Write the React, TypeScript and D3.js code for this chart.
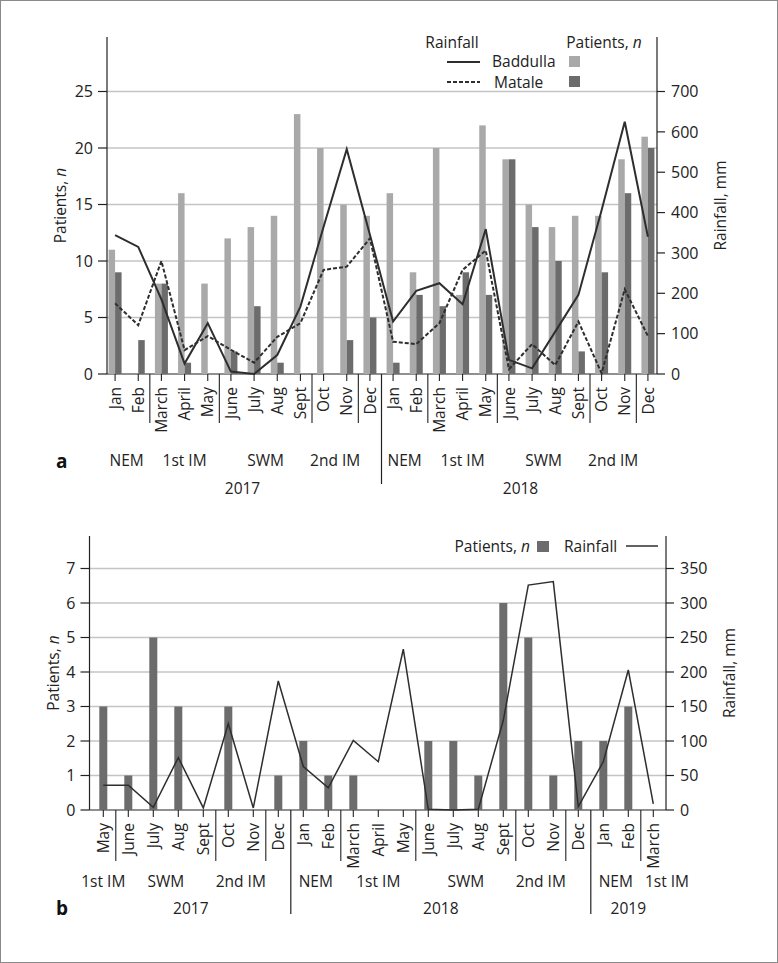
import React from "react";
import * as d3 from "d3";

// ---------- Panel a data ----------
const monthsA = ["Jan","Feb","March","April","May","June","July","Aug","Sept","Oct","Nov","Dec",
  "Jan","Feb","March","April","May","June","July","Aug","Sept","Oct","Nov","Dec"];
const baddullaPatients = [11,0,8,16,8,12,13,14,23,20,15,14, 16,9,20,7,22,19,15,13,14,14,19,21];
const matalePatients = [9,3,8,1,0,2,6,1,0,0,3,5, 1,7,6,9,7,19,13,10,2,9,16,20];
const baddullaRain = [344,315,185,26,126,6,0,47,167,365,557,345, 130,206,225,173,359,35,14,105,196,406,625,340];
const mataleRain = [175,121,280,59,94,60,28,92,126,258,266,336, 80,74,126,258,306,12,74,22,130,2,210,94];
const seasonLabelsA = ["NEM","1st IM","SWM","2nd IM","NEM","1st IM","SWM","2nd IM"];
const seasonStartA = [0,2,5,9,12,14,17,21];
const seasonEndA = [1,4,8,10,13,16,20,22];
const sepAfterA = [1,4,8,10,13,16,20,22];
const yearLabelsA = ["2017","2018"];
const yearStartA = [0,12];
const yearEndA = [11,23];
const leftTicksA = [0,5,10,15,20,25];
const rightTicksA = [0,100,200,300,400,500,600,700];

// ---------- Panel b data ----------
const monthsB = ["May","June","July","Aug","Sept","Oct","Nov","Dec",
  "Jan","Feb","March","April","May","June","July","Aug","Sept","Oct","Nov","Dec",
  "Jan","Feb","March"];
const patientsB = [3,1,5,3,0,3,0,1, 2,1,1,0,0,2,2,1,6,5,1,2, 2,3,0];
const rainB = [36,36,4,76,3,125,3,187, 63,32,101,70,233,1,0,1,130,326,331,5, 70,203,9];
const seasonLabelsB = ["1st IM","SWM","2nd IM","NEM","1st IM","SWM","2nd IM","NEM","1st IM"];
const seasonStartB = [0,1,5,8,10,13,17,20,22];
const seasonEndB = [0,4,6,9,12,16,18,21,22];
const sepAfterB = [0,4,6,9,12,16,18,21];
const yearLabelsB = ["2017","2018","2019"];
const yearStartB = [0,8,20];
const yearEndB = [7,19,22];
const leftTicksB = [0,1,2,3,4,5,6,7];
const rightTicksB = [0,50,100,150,200,250,300,350];

const FONT = "'Open Sans', 'Noto Sans', sans-serif";
const TXT = "#222";
const LIGHT = "#a9a9a9";
const DARK = "#6c6c6c";
const GRID = "#c4c4c4";
const LINE = "#2e2e2e";

function AxisFrame({ x, yL, yR, leftX, rightX, topY, baseY, leftTicks, rightTicks, months, sepAfter, yearAfter,
  yearLineEnd, seasonLabels, seasonStart, seasonEnd, seasonY, seasonXOverride, yearLabels, yearStart, yearEnd, yearY,
  leftTitleX, rightTitleX, sepEnd }) {
  const bw = x.bandwidth();
  const edgeAfter = (i) => (x(i) as number) + bw;
  const mid = (a, b) => ((x(a) as number) + (x(b) as number) + bw) / 2;
  const midY = (topY + baseY) / 2;
  return (
    <g fontFamily={FONT} fill={TXT}>
      {leftTicks.filter((t) => t > 0).map((t) => (
        <line key={"g" + t} x1={leftX} x2={rightX} y1={yL(t)} y2={yL(t)} stroke={GRID} strokeWidth={1.6} />
      ))}
      <line x1={leftX} x2={leftX} y1={topY} y2={baseY} stroke="#222" strokeWidth={1.2} />
      <line x1={rightX} x2={rightX} y1={topY} y2={baseY} stroke="#222" strokeWidth={1.2} />
      <line x1={leftX} x2={rightX} y1={baseY} y2={baseY} stroke="#222" strokeWidth={1.2} />
      {leftTicks.map((t) => (
        <g key={"l" + t}>
          <line x1={leftX - 9} x2={leftX} y1={yL(t)} y2={yL(t)} stroke="#222" strokeWidth={1.2} />
          <text x={leftX - 14} y={yL(t)} dy="0.36em" textAnchor="end" fontSize={16}>{t}</text>
        </g>
      ))}
      {rightTicks.map((t) => (
        <g key={"r" + t}>
          <line x1={rightX} x2={rightX + 8} y1={yR(t)} y2={yR(t)} stroke="#222" strokeWidth={1.2} />
          <text x={rightX + 14} y={yR(t)} dy="0.36em" textAnchor="start" fontSize={16}>{t}</text>
        </g>
      ))}
      {months.map((m, i) => {
        const cx = (x(i) as number) + bw / 2;
        return (
          <g key={"m" + i}>
            <line x1={cx} x2={cx} y1={baseY} y2={baseY + 7} stroke="#222" strokeWidth={1.1} />
            <text transform={`translate(${cx},${baseY + 13}) rotate(-90)`} dy="0.36em" textAnchor="end" fontSize={15.5}>{m}</text>
          </g>
        );
      })}
      {sepAfter.map((i) => (
        <line key={"s" + i} x1={edgeAfter(i)} x2={edgeAfter(i)} y1={baseY} y2={sepEnd} stroke="#222" strokeWidth={1.1} />
      ))}
      {yearAfter.map((i) => (
        <line key={"y" + i} x1={edgeAfter(i)} x2={edgeAfter(i)} y1={baseY} y2={yearLineEnd} stroke="#222" strokeWidth={1.2} />
      ))}
      {seasonLabels.map((s, k) => (
        <text key={"sl" + k} x={seasonXOverride && seasonXOverride[k] != null ? seasonXOverride[k] : mid(seasonStart[k], seasonEnd[k])}
          y={seasonY} textAnchor="middle" fontSize={15.5}>{s}</text>
      ))}
      {yearLabels.map((s, k) => (
        <text key={"yl" + k} x={mid(yearStart[k], yearEnd[k])} y={yearY} textAnchor="middle" fontSize={15.5}>{s}</text>
      ))}
      <text transform={`translate(${leftTitleX},${midY}) rotate(-90)`} dy="0.36em" textAnchor="middle" fontSize={15.5}>
        Patients, <tspan fontStyle="italic">n</tspan>
      </text>
      <text transform={`translate(${rightTitleX},${midY}) rotate(-90)`} dy="0.36em" textAnchor="middle" fontSize={15.5}>
        Rainfall, mm
      </text>
    </g>
  );
}

function PanelA() {
  const x = d3.scaleBand<number>().domain(d3.range(24)).range([103.5, 659.5]).padding(0);
  const yL = d3.scaleLinear().domain([0, 30]).range([374, 35]);
  const yR = d3.scaleLinear().domain([0, 840]).range([374, 35]);
  const cx = (i) => (x(i) as number) + x.bandwidth() / 2;
  const line = d3.line<number>().x((_, i) => cx(i)).y((d) => yR(d));
  const barW = 6.5;
  return (
    <g>
      <AxisFrame x={x} yL={yL} yR={yR} leftX={107} rightX={657} topY={37} baseY={374}
        leftTicks={leftTicksA} rightTicks={rightTicksA} months={monthsA} sepAfter={sepAfterA} yearAfter={[11]}
        yearLineEnd={484} sepEnd={423} seasonLabels={seasonLabelsA} seasonStart={seasonStartA} seasonEnd={seasonEndA}
        seasonY={466} yearLabels={yearLabelsA} yearStart={yearStartA} yearEnd={yearEndA} yearY={494}
        leftTitleX={60} rightTitleX={720} />
      {baddullaPatients.map((v, i) => v > 0 && (
        <rect key={"bl" + i} x={cx(i) - barW} y={yL(v)} width={barW} height={374 - yL(v)} fill={LIGHT} />
      ))}
      {matalePatients.map((v, i) => v > 0 && (
        <rect key={"md" + i} x={cx(i)} y={yL(v)} width={barW} height={374 - yL(v)} fill={DARK} />
      ))}
      <path d={line(baddullaRain) || ""} fill="none" stroke={LINE} strokeWidth={2} strokeLinejoin="miter" />
      <path d={line(mataleRain) || ""} fill="none" stroke={LINE} strokeWidth={2} strokeDasharray="4,2" />
      {/* legend */}
      <g fontFamily={FONT} fill={TXT} fontSize={15.5}>
        <text x={452} y={48} textAnchor="middle">Rainfall</text>
        <text x={604} y={48} textAnchor="middle">Patients, <tspan fontStyle="italic">n</tspan></text>
        <line x1={447} x2={480} y1={62} y2={62} stroke={LINE} strokeWidth={2} />
        <text x={492} y={67}>Baddulla</text>
        <rect x={569} y={56} width={11} height={11} fill={LIGHT} />
        <line x1={447} x2={480} y1={82} y2={82} stroke={LINE} strokeWidth={2} strokeDasharray="4,2" />
        <text x={494} y={88}>Matale</text>
        <rect x={569} y={76} width={11} height={11} fill={DARK} />
      </g>
      <text x={56} y={468} fontFamily={FONT} fontWeight="bold" fontSize={19} fill="#111">a</text>
    </g>
  );
}

function PanelB() {
  const x = d3.scaleBand<number>().domain(d3.range(23)).range([90.8, 665.8]).padding(0);
  const yL = d3.scaleLinear().domain([0, 8]).range([810, 534]);
  const yR = d3.scaleLinear().domain([0, 400]).range([810, 534]);
  const cx = (i) => (x(i) as number) + x.bandwidth() / 2;
  const line = d3.line<number>().x((_, i) => cx(i)).y((d) => yR(d));
  const barW = 8;
  const overrides = [null, null, null, null, null, null, null, null, 667];
  return (
    <g>
      <AxisFrame x={x} yL={yL} yR={yR} leftX={89.5} rightX={666} topY={536} baseY={810}
        leftTicks={leftTicksB} rightTicks={rightTicksB} months={monthsB} sepAfter={sepAfterB} yearAfter={[7, 19]}
        yearLineEnd={914} sepEnd={861} seasonLabels={seasonLabelsB} seasonStart={seasonStartB} seasonEnd={seasonEndB}
        seasonXOverride={overrides}
        seasonY={887} yearLabels={yearLabelsB} yearStart={yearStartB} yearEnd={yearEndB} yearY={914}
        leftTitleX={53} rightTitleX={729} />
      {patientsB.map((v, i) => v > 0 && (
        <rect key={"pb" + i} x={cx(i) - barW / 2} y={yL(v)} width={barW} height={810 - yL(v)} fill={DARK} />
      ))}
      <path d={line(rainB) || ""} fill="none" stroke={LINE} strokeWidth={1.5} />
      <g fontFamily={FONT} fill={TXT} fontSize={15.5}>
        <text x={530} y={552} textAnchor="end">Patients, <tspan fontStyle="italic">n</tspan></text>
        <rect x={537} y={541} width={12} height={11} fill={DARK} />
        <text x={564} y={552}>Rainfall</text>
        <line x1={626} x2={658} y1={546} y2={546} stroke={LINE} strokeWidth={1.5} />
      </g>
      <text x={56} y={915} fontFamily={FONT} fontWeight="bold" fontSize={19} fill="#111">b</text>
    </g>
  );
}

export default function App() {
  return (
    <div style={{ position: "absolute", left: 0, top: 0 }}>
      <svg width={778} height={963} style={{ display: "block", background: "#fff" }}>
        <rect x={0.5} y={0.5} width={777} height={962} fill="#fff" stroke="#8a8a8a" strokeWidth={1} />
        <PanelA />
        <PanelB />
      </svg>
    </div>
  );
}
